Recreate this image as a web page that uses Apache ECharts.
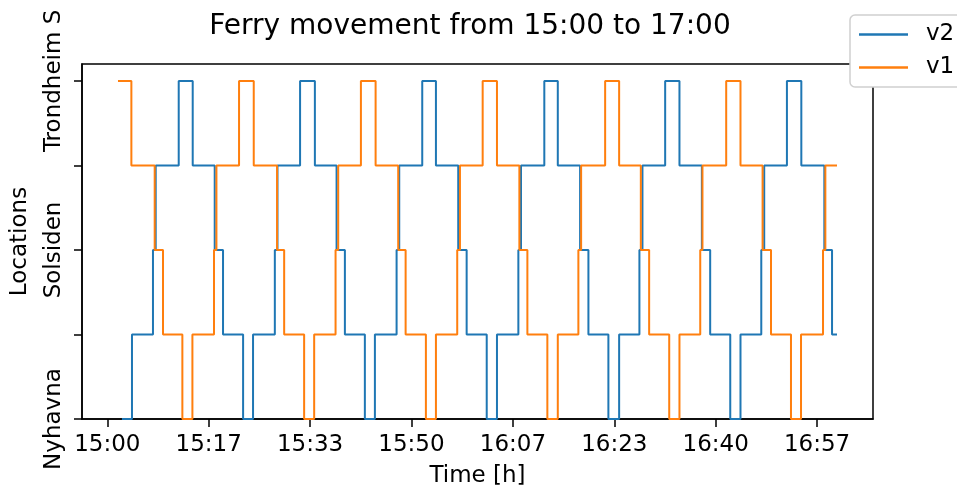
<!DOCTYPE html>
<html>
<head>
<meta charset="utf-8">
<script src="https://cdn.jsdelivr.net/npm/echarts@6/dist/echarts.min.js"></script>
<style>
  html, body { margin: 0; padding: 0; background: #ffffff; }
  #chart { width: 957px; height: 493px; }
</style>
</head>
<body>
<div id="chart"></div>
<script>
// Seconds after 15:00 at which each ferry changes position, and the position index it moves to
// (0 = Nyhavna, 2 = Solsiden, 4 = Trondheim S, odd values = between stops)
const v1Times = [105, 237, 467, 549, 740, 839, 1052, 1076,
  1299, 1444, 1674, 1744, 1941, 2040, 2251, 2277,
  2501, 2646, 2869, 2942, 3142, 3241, 3451, 3478,
  3702, 3843, 4064, 4143, 4340, 4443, 4646, 4673,
  4910, 5048, 5262, 5344, 5542, 5643, 5848, 5870,
  6104, 6245, 6463, 6546, 6743, 6842, 7059, 7082, 7197];
const v1Locs = [4, 3, 2, 1, 0, 1, 2, 3,
  4, 3, 2, 1, 0, 1, 2, 3,
  4, 3, 2, 1, 0, 1, 2, 3,
  4, 3, 2, 1, 0, 1, 2, 3,
  4, 3, 2, 1, 0, 1, 2, 3,
  4, 3, 2, 1, 0, 1, 2, 3, 3];

const v2Times = [144, 243, 450, 477, 704, 842, 1059, 1141,
  1339, 1437, 1652, 1678, 1901, 2047, 2261, 2343,
  2540, 2639, 2853, 2879, 3106, 3241, 3461, 3544,
  3742, 3843, 4054, 4080, 4310, 4443, 4663, 4745,
  4942, 5048, 5248, 5278, 5502, 5643, 5864, 5946,
  6144, 6245, 6450, 6479, 6703, 6845, 7072, 7148, 7197];
const v2Locs = [0, 1, 2, 3, 4, 3, 2, 1,
  0, 1, 2, 3, 4, 3, 2, 1,
  0, 1, 2, 3, 4, 3, 2, 1,
  0, 1, 2, 3, 4, 3, 2, 1,
  0, 1, 2, 3, 4, 3, 2, 1,
  0, 1, 2, 3, 4, 3, 2, 1, 1];

const locationNames = ['Nyhavna', '', 'Solsiden', '', 'Trondheim S'];
const locationTicks = [0, 1, 2, 3, 4];
const tickSeconds = [0, 1000, 2000, 3000, 4000, 5000, 6000, 7000];
const tickLabels = ['15:00', '15:17', '15:33', '15:50', '16:07', '16:23', '16:40', '16:57'];

const FONT = 'DejaVu Sans';
const pairs = (xs, ys) => xs.map((x, i) => [x, ys[i]]);

const chart = echarts.init(document.getElementById('chart'), null, { renderer: 'canvas' });

chart.setOption({
  animation: false,
  backgroundColor: '#ffffff',
  title: {
    text: 'Ferry movement from 15:00 to 17:00',
    left: 465,
    top: 8,
    textAlign: 'center',
    textStyle: { fontFamily: FONT, fontSize: 28, fontWeight: 'normal', color: '#000' }
  },
  legend: {
    data: ['v2', 'v1'],
    orient: 'vertical',
    left: 850,
    top: 15,
    icon: 'rect',
    itemWidth: 49,
    itemHeight: 2.5,
    itemGap: 10,
    padding: [8, 40, 8, 9],
    backgroundColor: '#ffffff',
    borderColor: '#d0d0d0',
    borderWidth: 1.5,
    borderRadius: 5,
    z: 10,
    textStyle: { fontFamily: FONT, fontSize: 23, color: '#000', padding: [0, 0, 0, 13] }
  },
  grid: {
    left: 82,
    right: 84,
    top: 64,
    bottom: 72,
    show: true,
    borderColor: '#000',
    borderWidth: 1.5,
    backgroundColor: 'transparent'
  },
  xAxis: {
    type: 'value',
    min: -250,
    max: 7552,
    name: 'Time [h]',
    nameLocation: 'middle',
    nameGap: 46,
    nameTextStyle: { fontFamily: FONT, fontSize: 23, color: '#000' },
    splitLine: { show: false },
    axisLine: { show: true, onZero: false, lineStyle: { color: '#000', width: 1.5 } },
    axisTick: {
      show: true, length: 8, inside: false,
      customValues: tickSeconds,
      lineStyle: { color: '#000', width: 1.5 }
    },
    axisLabel: {
      customValues: tickSeconds,
      formatter: v => tickLabels[tickSeconds.indexOf(v)],
      fontFamily: FONT, fontSize: 23, color: '#000', margin: 15
    }
  },
  yAxis: {
    type: 'value',
    min: 0,
    max: 4.2,
    name: 'Locations',
    nameLocation: 'middle',
    nameGap: 50,
    nameRotate: 90,
    nameTextStyle: { fontFamily: FONT, fontSize: 23, color: '#000' },
    splitLine: { show: false },
    axisLine: { show: true, onZero: false, lineStyle: { color: '#000', width: 1.5 } },
    axisTick: {
      show: true, length: 8, inside: false,
      customValues: locationTicks,
      lineStyle: { color: '#000', width: 1.5 }
    },
    axisLabel: {
      customValues: locationTicks,
      rotate: 90,
      formatter: v => locationNames[Math.round(v)],
      fontFamily: FONT, fontSize: 23, color: '#000', margin: 16
    }
  },
  series: [
    {
      name: 'v2',
      type: 'line',
      step: 'end',
      data: pairs(v2Times, v2Locs),
      showSymbol: false,
      color: '#1f77b4',
      lineStyle: { color: '#1f77b4', width: 2 }
    },
    {
      name: 'v1',
      type: 'line',
      step: 'end',
      data: pairs(v1Times, v1Locs),
      showSymbol: false,
      color: '#ff7f0e',
      lineStyle: { color: '#ff7f0e', width: 2 }
    }
  ]
});
</script>
</body>
</html>
